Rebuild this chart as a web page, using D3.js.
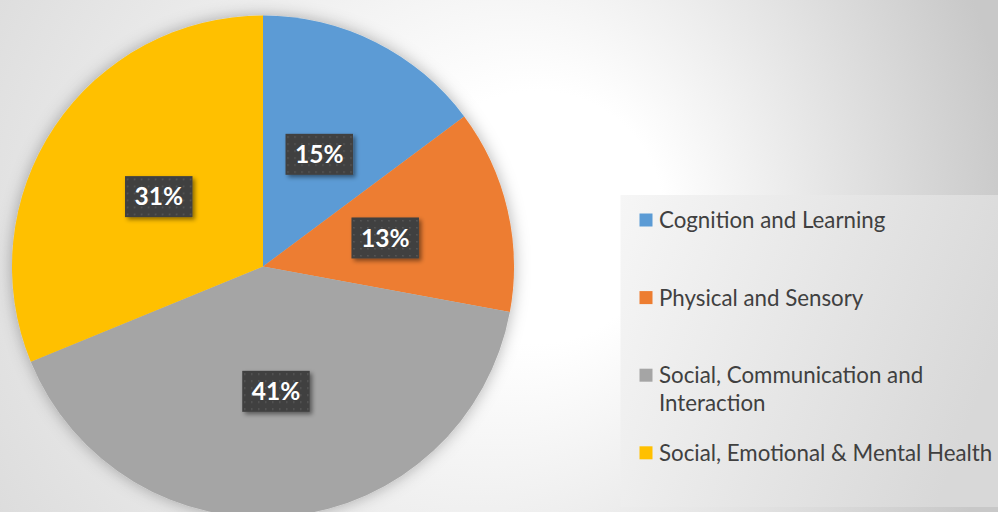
<!DOCTYPE html>
<html><head><meta charset="utf-8">
<script src="https://cdn.jsdelivr.net/npm/d3@7"></script>
<style>html,body{margin:0;padding:0;background:#fff;}svg{display:block;}</style>
</head><body>
<svg id="chart" width="998" height="512"></svg>
<script>
const categories = ["Cognition and Learning", "Physical and Sensory", "Social, Communication and Interaction", "Social, Emotional & Mental Health"];
const values = [14.8, 13.1, 40.9, 31.2];
const labels = ["15%", "13%", "41%", "31%"];
const colors = ["#5B9BD5", "#ED7D31", "#A5A5A5", "#FFC000"];

const W = 998, H = 512;
const svg = d3.select("#chart");
const defs = svg.append("defs");

const bg = defs.append("radialGradient").attr("id", "bg").attr("gradientUnits", "userSpaceOnUse")
  .attr("cx", 320).attr("cy", 250).attr("r", 700).attr("fx", 585).attr("fy", 210);
bg.append("stop").attr("offset", 0).attr("stop-color", "#ffffff");
bg.append("stop").attr("offset", 0.18).attr("stop-color", "#ffffff");
bg.append("stop").attr("offset", 1).attr("stop-color", "#c8c8c8");

const lg = defs.append("linearGradient").attr("id", "lg").attr("x1", 0).attr("x2", 1).attr("y1", 0).attr("y2", 0.3);
lg.append("stop").attr("offset", 0).attr("stop-color", "#f6f6f6");
lg.append("stop").attr("offset", 1).attr("stop-color", "#d8d8d8");

const ps = defs.append("filter").attr("id", "pieShadow").attr("x", "-20%").attr("y", "-20%").attr("width", "140%").attr("height", "140%");
ps.append("feDropShadow").attr("dx", 0).attr("dy", 0).attr("stdDeviation", 8).attr("flood-color", "#000").attr("flood-opacity", 0.3);

const ls = defs.append("filter").attr("id", "lblShadow").attr("x", "-30%").attr("y", "-30%").attr("width", "160%").attr("height", "160%");
ls.append("feDropShadow").attr("dx", 2.5).attr("dy", 2.5).attr("stdDeviation", 2).attr("flood-color", "#000").attr("flood-opacity", 0.45);

const pat = defs.append("pattern").attr("id", "dots").attr("patternUnits", "userSpaceOnUse").attr("width", 7).attr("height", 7);
pat.append("rect").attr("width", 7).attr("height", 7).attr("fill", "#404040");
pat.append("rect").attr("x", 3).attr("y", 3).attr("width", 1.5).attr("height", 1.5).attr("fill", "#5a5a5a");

svg.append("rect").attr("width", W).attr("height", H).attr("fill", "url(#bg)");

// legend box
svg.append("rect").attr("x", 620.5).attr("y", 195).attr("width", 400).attr("height", 312).attr("fill", "url(#lg)");

const cx = 263, cy = 266.5, R = 251;
const pie = d3.pie().sort(null).value(d => d)(values);
const arc = d3.arc().innerRadius(0).outerRadius(R);
const lblArc = d3.arc().innerRadius(R * 0.5).outerRadius(R * 0.5);

const g = svg.append("g").attr("transform", `translate(${cx},${cy})`);
g.append("g").attr("filter", "url(#pieShadow)")
  .selectAll("path").data(pie).join("path")
  .attr("d", arc).attr("fill", (d, i) => colors[i]);

const lg2 = g.append("g");
pie.forEach((d, i) => {
  const [x, y] = lblArc.centroid(d);
  const grp = lg2.append("g").attr("transform", `translate(${x},${y})`);
  const rect = grp.append("rect").attr("fill", "url(#dots)").attr("filter", "url(#lblShadow)");
  const t = grp.append("text").attr("text-anchor", "middle").attr("dy", "0.36em")
    .attr("font-family", "Lato, 'Open Sans', sans-serif").attr("font-weight", "bold")
    .attr("font-size", 24.5).attr("fill", "#fff").text(labels[i]);
  const w = t.node().getComputedTextLength() + 19;
  const h = 41;
  rect.attr("x", -w / 2).attr("y", -h / 2).attr("width", w).attr("height", h);
});

// legend
const leg = svg.append("g");
const maxW = 345;
const y0 = 228, step = 77.6;
categories.forEach((c, i) => {
  const base = y0 + i * step;
  const t = leg.append("text").attr("x", 659).attr("y", base)
    .attr("font-family", "Lato, 'Open Sans', sans-serif").attr("font-size", 22.3).attr("fill", "#404040");
  const words = c.split(" ");
  let line = [], lines = 0;
  let ts = t.append("tspan").attr("x", 659).attr("y", base);
  words.forEach(wd => {
    line.push(wd);
    ts.text(line.join(" "));
    if (ts.node().getComputedTextLength() > maxW && line.length > 1) {
      line.pop(); ts.text(line.join(" "));
      line = [wd]; lines++;
      ts = t.append("tspan").attr("x", 659).attr("y", base + lines * 28).text(wd);
    }
  });
  leg.append("rect").attr("x", 639.5).attr("y", base - 14.5).attr("width", 13).attr("height", 13).attr("fill", colors[i]);
});
</script>
</body></html>
